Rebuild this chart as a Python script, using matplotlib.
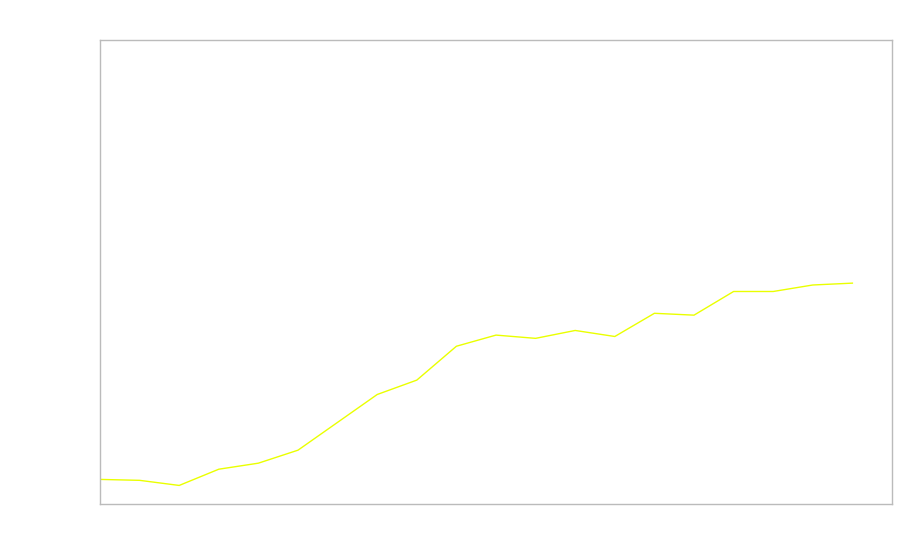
import matplotlib
matplotlib.use("Agg")
import matplotlib.pyplot as plt

x_values = list(range(20))
y_values = [5.3, 5.1, 4.0, 7.5, 8.8, 11.6, 17.6, 23.6, 26.7, 34.0,
            36.4, 35.7, 37.4, 36.1, 41.1, 40.7, 45.8, 45.8, 47.2, 47.6]

fig = plt.figure(figsize=(9, 5.6), dpi=100)
ax = fig.add_axes([100/900, 1 - 504/560, 792/900, 464/560])
ax.plot(x_values, y_values, color="#eaff00", linewidth=1.0)
ax.set_xlim(0, 20)
ax.set_ylim(0, 100)
ax.set_xticks([])
ax.set_yticks([])
for s in ax.spines.values():
    s.set_color("#bbbbbb")
    s.set_linewidth(1.0)
fig.savefig("out.png", dpi=100)
